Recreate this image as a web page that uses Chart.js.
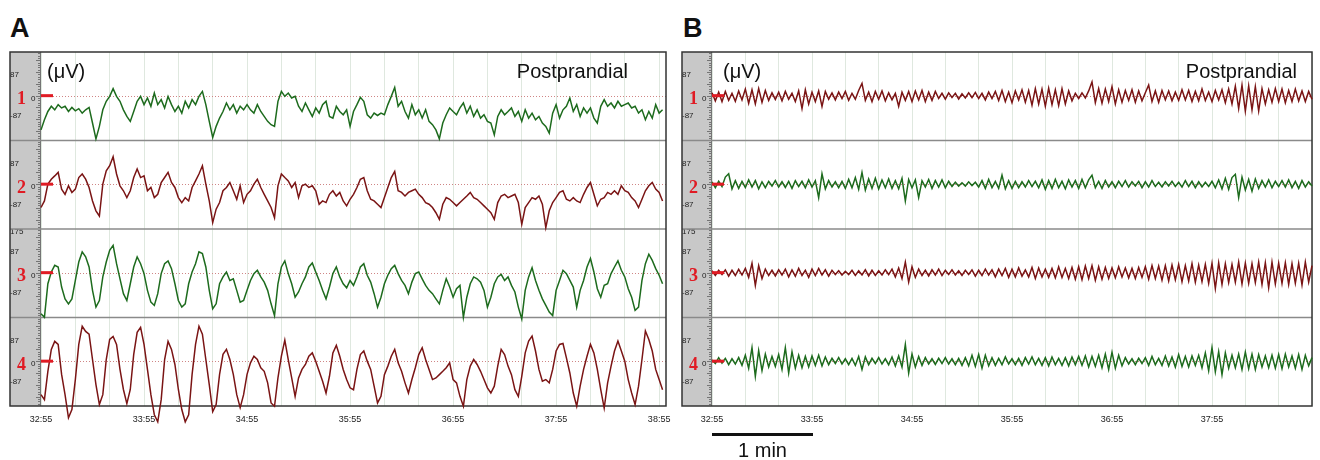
<!DOCTYPE html>
<html>
<head>
<meta charset="utf-8">
<script src="https://cdn.jsdelivr.net/npm/chart.js@4.4.1/dist/chart.umd.min.js"></script>
<style>
  body { margin: 0; background: #fff; width: 1320px; height: 460px; position: relative; overflow: hidden;
         font-family: "Liberation Sans", Arial, sans-serif; }
  canvas { position: absolute; top: 0; }
  #chartA { left: 0; }
  #chartB { left: 672px; }
  .tag { position: absolute; top: 15px; font: bold 27px/27px "Liberation Sans", Arial, sans-serif; color: #111; }
  .bar { position: absolute; left: 712px; top: 433px; width: 101px; height: 3px; background: #111; }
  .bartxt { position: absolute; left: 712px; width: 101px; top: 440px; text-align: center;
            font: 20px/20px "Liberation Sans", Arial, sans-serif; color: #111; }
</style>
</head>
<body>
<div class="tag" style="left:10px">A</div>
<div class="tag" style="left:683px">B</div>
<canvas id="chartA" width="680" height="440"></canvas>
<canvas id="chartB" width="648" height="440"></canvas>
<div class="bar"></div>
<div class="bartxt">1 min</div>

<script>
// one sample every 2 s, time axis starts at 32:55
const SAMPLE_SEC = 2;
const Y_MIN = -190, Y_MAX = 185;

const timeLabelsA = ['32:55', '33:55', '34:55', '35:55', '36:55', '37:55', '38:55'];
const timeLabelsB = ['32:55', '33:55', '34:55', '35:55', '36:55', '37:55'];
const channelNames = ['1', '2', '3', '4'];
const zeroLabel = '0';
const yTicks = [87, -87];
const yTicksCh3 = [175, 87, -87];
const unitText = '(\u03bcV)';
const conditionText = 'Postprandial';

const GREEN = '#1d6b1d';
const MAROON = '#7a1414';

// panel A, channels 1-4 (uV)
const egA1 = [-145,-102,-67,-45,-60,-38,-52,-45,-67,-50, -64,-55,-74,-60,-50,-116,-183,-130,-60,-24,
  -3,30,-3,-24,-60,-88,-109,-67,-24,-3, -38,-10,-45,11,-38,-17,-52,-3,-38,-67,
  -45,-74,-24,-52,-17,-38,-3,18,-38,-109, -177,-130,-95,-67,-31,-60,-38,-74,-45,-60,
  -38,-60,-74,-38,-67,-88,-109,-123,-130,-24, 18,-3,11,-10,-3,-45,-67,-31,-60,-88,
  -52,-74,-38,-24,-88,-95,-45,-67,-81,-60, -130,-67,-38,-7,-24,-81,-95,-74,-84,-74,
  -81,-38,-3,35,-45,-24,-67,-95,-38,-81, -60,-95,-60,-109,-123,-145,-183,-116,-81,-52,
  -67,-81,-52,-31,-74,-45,-88,-60,-95,-81, -109,-116,-166,-88,-60,-81,-67,-52,-88,-67,
  -109,-60,-95,-74,-102,-88,-116,-130,-159,-74, -38,-95,-60,-45,-10,-67,-38,-88,-52,-74,
  -52,-95,-116,-45,-17,-45,-31,-52,-24,-45, -38,-31,-52,-45,-74,-60,-102,-67,-95,-38,
  -74,-60];
const egA2 = [-99,-71,0,21,35,50,-21,-43,-7,-35, -21,28,43,21,-14,-71,-113,-135,0,57,
  78,116,43,-7,-28,-57,-28,28,64,28, 35,-28,-14,-57,-43,7,28,50,7,-14,
  -57,-78,-57,-71,-14,14,43,78,0,-71, -163,-106,-78,-28,-14,7,-28,-64,-7,-78,
  -43,-28,0,21,-14,-43,-71,-99,-142,-7, 43,28,14,-14,7,-57,-7,0,-14,-7,
  -28,-85,-71,-78,-43,-28,-50,-35,-71,-92, -64,-43,-14,21,28,-28,-64,-71,-85,-99,
  -57,-14,28,54,-28,-35,-50,-35,-28,-21, -43,-57,-78,-85,-99,-121,-149,-85,-57,-64,
  -78,-92,-78,-64,-50,-35,-57,-64,-78,-92, -106,-121,-149,-78,-50,-43,-57,-50,-43,-78,
  -170,-99,-78,-57,-64,-50,-85,-184,-113,-78, -57,-35,-28,-64,-71,-57,-71,-78,-43,-14,
  7,-43,-92,-64,-57,-35,-43,-28,-43,-7, -28,-35,-57,-71,-99,-64,-28,-7,7,-21,
  -35,-71];
const egA3 = [-174,-189,-47,3,31,24,-61,-111,-132,-111, -33,45,88,67,24,-75,-146,-118,-18,45,
  95,116,38,-26,-89,-118,-47,24,67,38, -4,-75,-125,-139,-89,-4,38,50,17,-47,
  -118,-146,-132,-47,3,38,88,81,24,-75, -153,-132,-47,-18,3,-33,-26,-75,-125,-118,
  -75,-33,-4,10,-18,-40,-75,-132,-182,-47, 24,50,-4,-47,-104,-82,-47,-18,24,41,
  3,-33,-75,-111,-61,-4,24,-18,-47,-64, -33,-54,-18,24,38,-11,-40,-89,-146,-104,
  -47,-11,17,31,-4,-33,-54,-89,-40,-4, 3,-26,-54,-75,-89,-111,-132,-75,-26,-61,
  -104,-68,-54,-189,-104,-47,-18,-26,-40,-75, -146,-104,-47,-18,-7,-33,-18,-54,-82,-146,
  -196,-75,-18,21,-33,-75,-111,-139,-167,-182, -75,-33,10,-4,-33,-61,-146,-75,-33,24,
  60,3,-68,-104,-54,-47,-4,24,50,10, -18,-68,-104,-160,-146,-33,38,78,52,17,
  -11,-47];
const egA4 = [-142,-163,-43,50,84,71,-56,-142,-240,-205, -78,71,148,126,114,7,-99,-184,-142,7,
  92,105,71,-35,-120,-180,-120,29,122,143, 71,-35,-142,-227,-257,-163,7,84,50,-14,
  -120,-205,-257,-227,-56,71,148,114,7,-99, -214,-184,-56,29,50,7,-56,-142,-197,-142,
  -56,-7,21,7,-28,-43,-92,-177,-191,-71, 21,89,7,-71,-149,-71,-35,-14,21,35,
  0,-43,-85,-135,-64,35,67,21,-35,-78, -113,-121,-35,28,43,0,-35,-106,-177,-149,
  -57,-21,21,50,-7,-43,-92,-135,-78,-28, 28,57,7,-35,-78,-71,-57,-43,-28,-7,
  -78,-92,-149,-191,-78,-21,7,-14,-43,-78, -113,-135,-106,-21,50,28,-21,-57,-121,-149,
  -64,35,85,106,43,-35,-85,-78,-92,-35, 43,71,75,14,-50,-135,-191,-106,-35,21,
  71,35,-35,-121,-199,-92,-21,43,85,43, 0,-78,-135,-184,-106,7,128,92,43,-35,
  -78,-121];

// panel B, channels 1-4 (uV)
const egB1 = [12,-22,15,-25,18,-20,10,-24,20,-18, 28,-32,25,-35,30,-28,22,-20,12,-16,
  15,-22,18,-15,10,-25,20,-55,25,-35, 15,-25,20,-46,18,-15,12,-18,15,-12,
  18,-20,10,-15,22,52,-20,15,-25,18, -15,20,-22,12,-18,10,-45,15,-20,18,
  -25,20,-18,22,-25,15,-20,18,-12,10, -15,12,-8,10,-14,8,-10,12,-8,14,
  -12,10,-18,15,-12,18,-20,22,-25,15, -30,20,-18,25,-28,22,-40,30,-35,28,
  -45,32,-38,25,-42,30,-35,20,-22,10, -12,12,-10,20,58,-30,30,-32,28,-25,
  38,-35,25,-28,22,-20,25,-28,20,-22, 12,45,-25,20,-28,22,-18,20,-22,15,
  -20,25,-18,22,-25,18,-22,28,-20,15, -25,22,-18,25,-30,28,-35,40,-55,45,
  -66,42,-60,38,-65,30,-35,25,-28,30, -25,28,-30,22,-25,28,-22,20,-25,18,-15];
const egB2 = [10,-15,12,-10,30,44,-20,15,-18,12, -14,18,-12,15,-20,10,-15,12,-8,15,
  -12,10,-14,12,-18,15,-10,12,-15,18, -12,15,-57,44,-20,15,-12,10,-15,12,
  -18,20,-15,28,-22,50,-25,22,-18,25, -20,18,-15,22,-18,15,-20,25,-71,20,
  -15,18,-57,15,-12,20,-18,15,-12,18, -15,12,-10,8,-8,6,-8,10,-6,8,
  -12,15,-18,20,-15,12,-18,38,-20,15, -18,12,-15,10,-12,15,-10,12,-15,18,
  -22,15,-18,20,-15,12,-20,18,-12,15, -18,20,-15,18,38,-15,12,-18,15,-12,
  10,-15,12,-10,15,-12,10,-8,12,-15, 10,-12,15,-10,8,-12,10,-8,12,-10,
  8,-12,15,-10,12,-15,10,-12,8,-10, 12,-15,18,-20,25,-22,28,42,-57,30,
  -25,20,-30,22,-18,15,-12,18,-15,12, -10,15,-12,18,-15,12,-18,15,-12,10,-8];
const egB3 = [8,-12,10,-8,12,-15,10,-12,14,-10, 18,-20,40,-54,30,-25,15,-12,10,-14,
  12,-10,15,-18,12,-15,18,-12,10,-20, 15,-12,18,-10,12,-15,10,-8,8,-10,
  6,-8,10,-12,8,-10,12,-14,10,-12, 8,-10,12,-8,15,-18,20,-25,45,-40,
  25,-20,15,-12,10,-14,12,-10,15,-12, 10,-8,12,-10,8,-12,10,-8,12,-15,
  10,-12,15,-10,12,-18,15,-12,18,-20, 15,-18,20,-15,12,-18,22,-25,20,-18,
  15,-20,18,-22,25,-20,18,-25,22,-28, 25,-30,28,-25,30,-32,25,-28,22,-25,
  20,-22,25,-18,20,-22,18,-25,22,-20, 25,-28,30,-25,28,-32,30,-35,32,-30,
  35,-38,30,-35,38,-40,32,-38,35,-45, 40,-67,42,-50,38,-42,35,-40,45,-48,
  40,-45,38,-42,45,-50,42,-64,45,-48, 40,-45,42,-50,38,-45,40,-52,45,-40,30];
const egB4 = [5,-10,15,-8,12,-15,10,-12,15,-18, 25,-30,57,-64,45,-40,30,-25,20,-22,
  28,-35,57,-50,40,-30,25,-28,20,-25, 22,-18,25,-20,18,-15,12,-10,15,-12,
  10,-15,12,-18,20,-35,18,-15,12,-10, 15,-12,10,-15,18,-20,22,-25,71,-50,
  30,-25,20,-18,15,-12,10,-14,12,-10, 15,-12,10,-15,12,-18,15,-20,25,-22,
  28,-30,25,-20,15,-18,12,-15,18,-12, 10,-15,12,-18,15,-12,18,-15,12,-18,
  15,-20,18,-15,12,-18,15,-20,18,-15, 20,-18,22,-25,20,-22,25,-28,30,-35,
  38,-30,25,-20,15,-12,10,-15,12,-10, 15,-18,20,-15,12,-18,22,-20,18,-25,
  28,-22,20,-25,22,-18,25,-28,35,-40, 57,-45,40,-57,35,-30,25,-28,30,-35,
  38,-32,30,-35,28,-25,22,-28,25,-30, 28,-32,30,-25,22,-30,28,-35,25,-20,15];

Chart.defaults.font.family = '"Liberation Sans", Arial, sans-serif';

const axisIds = ['c1', 'c2', 'c3', 'c4'];

function egPlugin(cfg) {
  return {
    id: 'egPanel',
    beforeDraw(chart) {
      const { ctx, chartArea: ca } = chart;
      const x0 = ca.left - cfg.stripW;
      ctx.save();
      ctx.fillStyle = '#c8c8c8';
      ctx.fillRect(x0, ca.top, cfg.stripW, ca.bottom - ca.top);
      // little ruler on the right edge of the grey strip
      ctx.strokeStyle = '#757575';
      ctx.lineWidth = 1;
      ctx.beginPath();
      axisIds.forEach(id => {
        const s = chart.scales[id];
        for (let v = -180; v <= 180; v += 10) {
          const y = Math.round(s.getPixelForValue(v)) + 0.5;
          if (y <= s.top + 1 || y >= s.bottom - 1) continue;
          const len = v % 50 === 0 ? 5 : 3;
          ctx.moveTo(ca.left - len, y);
          ctx.lineTo(ca.left, y);
        }
      });
      ctx.moveTo(ca.left - 0.5, ca.top);
      ctx.lineTo(ca.left - 0.5, ca.bottom);
      ctx.stroke();
      ctx.restore();
    },
    beforeDatasetsDraw(chart) {
      const { ctx, chartArea: ca } = chart;
      const x0 = ca.left - cfg.stripW;
      ctx.save();
      ctx.strokeStyle = '#cf8585';
      ctx.lineWidth = 1;
      ctx.setLineDash([1, 2]);
      ctx.beginPath();
      axisIds.forEach(id => {
        const y = Math.round(chart.scales[id].getPixelForValue(0)) + 0.5;
        ctx.moveTo(ca.left, y);
        ctx.lineTo(ca.right, y);
      });
      ctx.stroke();
      ctx.setLineDash([]);
      ctx.strokeStyle = '#8a8a8a';
      ctx.lineWidth = 1.5;
      ctx.beginPath();
      axisIds.forEach(id => {
        const s = chart.scales[id];
        if (s.top > ca.top + 2) {
          ctx.moveTo(x0, s.top);
          ctx.lineTo(ca.right, s.top);
        }
      });
      ctx.stroke();
      ctx.strokeStyle = '#333';
      ctx.lineWidth = 1.5;
      ctx.strokeRect(x0, ca.top, ca.right - x0, ca.bottom - ca.top);
      ctx.restore();
    },
    afterDatasetsDraw(chart) {
      const { ctx, chartArea: ca } = chart;
      const x0 = ca.left - cfg.stripW;
      ctx.save();
      axisIds.forEach((id, i) => {
        const y = chart.scales[id].getPixelForValue(0);
        ctx.fillStyle = '#e01b24';
        ctx.fillRect(ca.left, y - 1.5, 12, 3);
        ctx.font = 'bold 18px "Liberation Serif", "Times New Roman", serif';
        ctx.textAlign = 'left';
        ctx.textBaseline = 'middle';
        ctx.fillText(channelNames[i], x0 + 7, y + 4);
        ctx.fillStyle = '#222';
        ctx.font = '8px "Liberation Sans", Arial, sans-serif';
        ctx.fillText(zeroLabel, ca.left - 10, y + 3);
      });
      ctx.fillStyle = '#111';
      ctx.font = '20px "Liberation Sans", Arial, sans-serif';
      ctx.textBaseline = 'middle';
      ctx.textAlign = 'left';
      ctx.fillText(unitText, ca.left + cfg.unitDx, ca.top + 20);
      ctx.textAlign = 'right';
      ctx.fillText(conditionText, ca.right - cfg.condRight, ca.top + 20);
      ctx.restore();
    }
  };
}

function channelAxis(tickVals, stripW) {
  return {
    type: 'linear',
    position: 'left',
    stack: 'channels',
    stackWeight: 1,
    min: Y_MIN,
    max: Y_MAX,
    grid: { display: false },
    border: { display: false },
    afterBuildTicks: s => { s.ticks = tickVals.map(v => ({ value: v })); },
    afterFit: s => { s.width = stripW; },
    ticks: { crossAlign: 'far', color: '#222', font: { size: 8 }, callback: v => String(v) }
  };
}

function panelChart(canvasId, cfg) {
  const datasets = cfg.series.map((vals, i) => ({
    data: vals.map((v, k) => ({ x: k * SAMPLE_SEC, y: v })),
    yAxisID: axisIds[i],
    borderColor: cfg.colors[i],
    borderWidth: 1.5,
    pointRadius: 0,
    tension: 0,
    clip: false
  }));
  const scales = {
    x: {
      type: 'linear',
      min: 0,
      max: cfg.xMax,
      grid: { color: '#dfe8df', lineWidth: 1, drawTicks: false },
      border: { display: false },
      afterFit: s => { s.height = 24; },
      ticks: {
        stepSize: 20,
        includeBounds: false,
        autoSkip: false,
        maxRotation: 0,
        padding: 8,
        color: '#222',
        font: { size: 9 },
        callback: v => (v % 60 === 0 ? (cfg.timeLabels[v / 60] || '') : '')
      }
    }
  };
  // stacked axes are laid out bottom-up, so add channel 4 first
  for (let i = axisIds.length - 1; i >= 0; i--) {
    scales[axisIds[i]] = channelAxis(i === 2 ? yTicksCh3 : yTicks, cfg.stripW);
  }
  return new Chart(document.getElementById(canvasId), {
    type: 'line',
    data: { datasets },
    options: {
      responsive: false,
      animation: false,
      layout: { padding: cfg.padding },
      plugins: { legend: { display: false }, tooltip: { enabled: false } },
      scales
    },
    plugins: [egPlugin(cfg)]
  });
}

panelChart('chartA', {
  series: [egA1, egA2, egA3, egA4],
  colors: [GREEN, MAROON, GREEN, MAROON],
  xMax: 364,
  timeLabels: timeLabelsA,
  stripW: 31,
  padding: { left: 10, top: 52, right: 14, bottom: 10 },
  unitDx: 6,
  condRight: 38
});

panelChart('chartB', {
  series: [egB1, egB2, egB3, egB4],
  colors: [MAROON, GREEN, MAROON, GREEN],
  xMax: 360,
  timeLabels: timeLabelsB,
  stripW: 30,
  padding: { left: 10, top: 52, right: 3, bottom: 10 },
  unitDx: 11,
  condRight: 15
});
</script>
</body>
</html>
